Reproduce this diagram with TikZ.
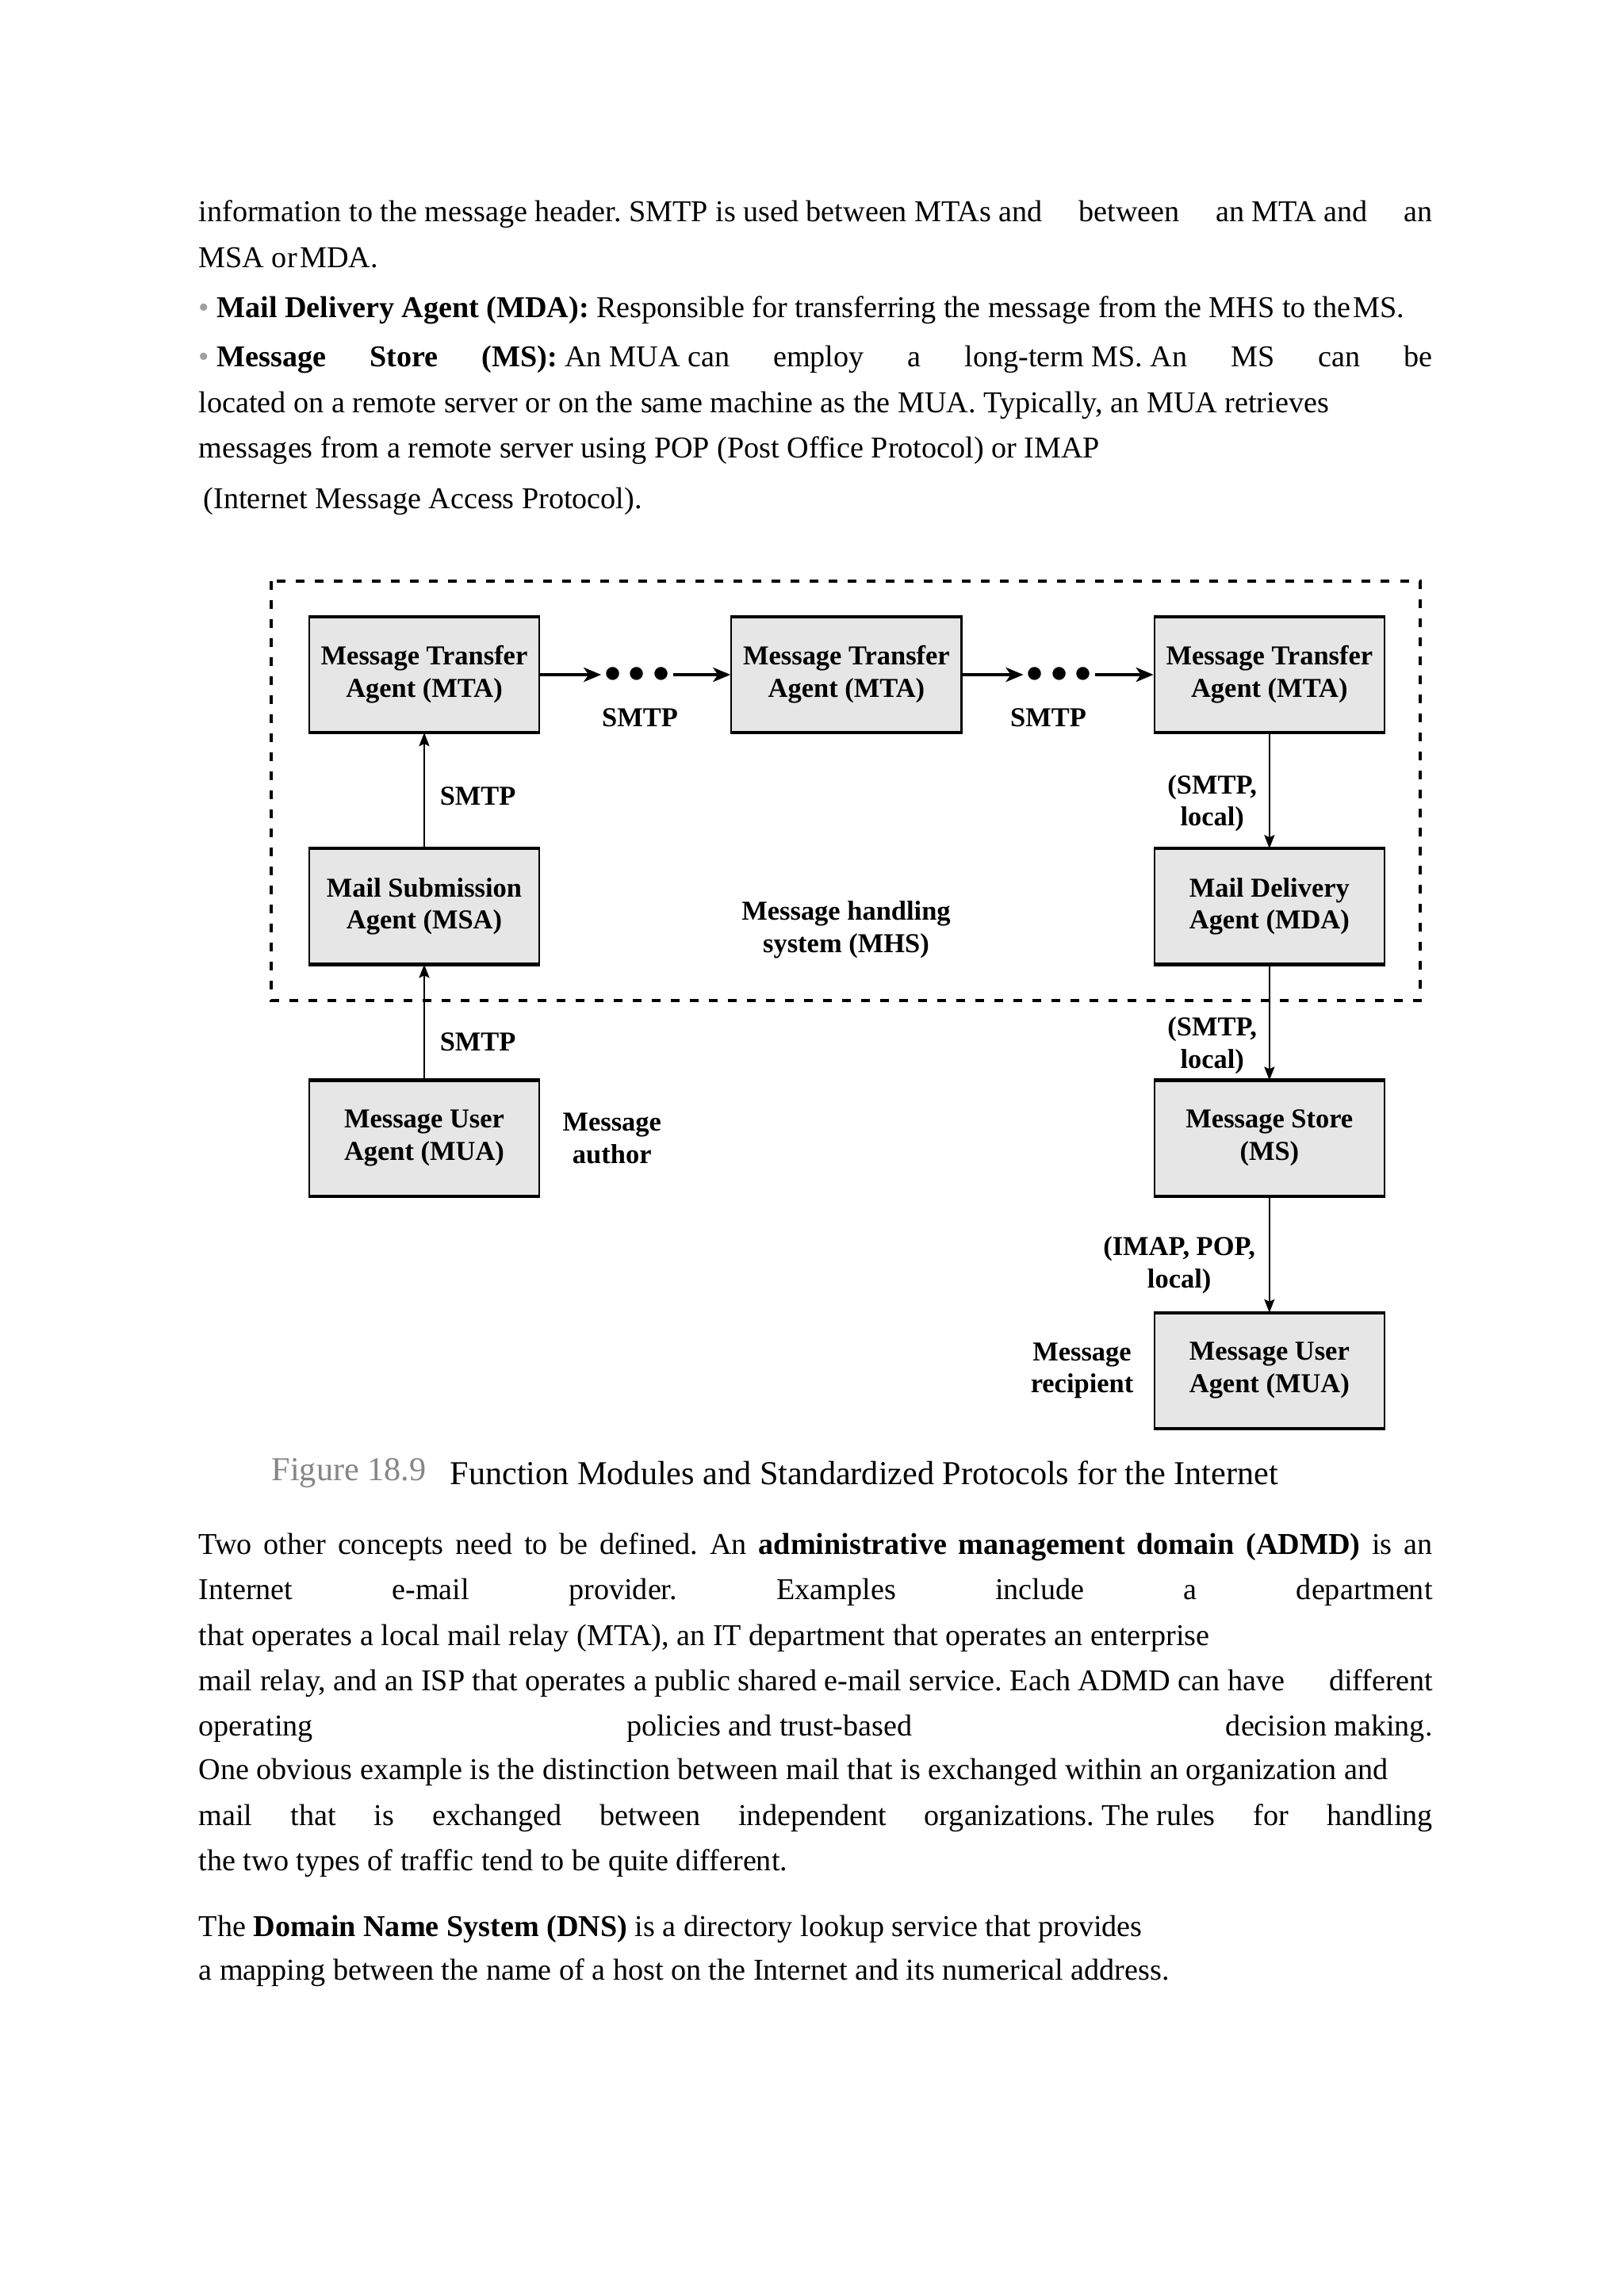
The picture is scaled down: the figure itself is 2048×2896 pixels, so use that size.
\documentclass[tikz,border=0pt]{standalone}
\usepackage{fontspec}
\setmainfont{Liberation Serif}
\usetikzlibrary{arrows.meta, positioning}

\definecolor{boxgray}{HTML}{E6E6E6}
\definecolor{capgray}{HTML}{868686}
\definecolor{bulgray}{HTML}{A0A0A0}

\newlength{\linew}
\setlength{\linew}{15.55cm}
\newcommand{\jline}[1]{\makebox[\linew][s]{#1}}
\newcommand{\bul}{\textcolor{bulgray}{•}}
\frenchspacing

\begin{document}
\begin{tikzpicture}[
x=0.01cm, y=-0.01cm,
txt/.style={anchor=west, inner sep=0pt, text height=0.7em, text depth=0.22em, font=\fontsize{10.85pt}{13pt}\selectfont},
agent/.style={rectangle, draw, line width=0.6pt, fill=boxgray, minimum width=2.9cm, minimum height=1.44cm, align=center, font=\fontsize{9.8pt}{11.6pt}\selectfont\bfseries},
lbl/.style={align=center, font=\fontsize{9.8pt}{11.6pt}\selectfont\bfseries},
dots/.style={inner sep=1pt, font=\fontsize{12.5pt}{14pt}\selectfont},
arrow/.style={-{Stealth[length=0.17cm, width=0.13cm, inset=0.03cm]}, line width=0.6pt},
bigarrow/.style={-{Stealth[length=0.22cm, width=0.18cm, inset=0.06cm]}, line width=1.2pt},
mhsframe/.style={line width=1.4pt, dash pattern=on 0.11cm off 0.13cm}
]
\useasboundingbox (0,0) rectangle (2048,2896);
\fill[white] (0,0) rectangle (2048,2896);

% text above the figure
\node[txt] (l1) at (250,271) {\jline{information to the message header. SMTP is used between MTAs and\hfill between\hfill an MTA and\hfill an}};
\node[txt] (l2) at (250,329) {MSA or\kern1pt MDA.};
\node[txt] (l3) at (250,392) {\bul\ \textbf{Mail Delivery Agent (MDA):} Responsible for transferring the message from the MHS to the\kern1pt MS.};
\node[txt] (l4) at (250,454) {\jline{\bul\ \textbf{Message\hfill Store\hfill (MS):} An MUA can\hfill employ\hfill a\hfill long-term MS. An\hfill MS\hfill can\hfill be}};
\node[txt] (l5) at (250,512) {located on a remote server or on the same machine as the MUA. Typically, an MUA retrieves};
\node[txt] (l6) at (250,569) {messages from a remote server using POP (Post Office Protocol) or IMAP};
\node[txt] (l7) at (256,633) {(Internet Message Access Protocol).};

% message handling system
\draw[mhsframe] (342,733) rectangle (1791,1262);

\node[agent] (mta1) at (535,851) {Message Transfer\\Agent (MTA)};
\node[agent, right=2.4cm of mta1] (mta2) {Message Transfer\\Agent (MTA)};
\node[agent, right=2.41cm of mta2] (mta3) {Message Transfer\\Agent (MTA)};
\node[agent, below=1.46cm of mta1] (msa) {Mail Submission\\Agent (MSA)};
\node[agent, below=1.46cm of msa] (mua1) {Message User\\Agent (MUA)};
\node[agent, below=1.46cm of mta3] (mda) {Mail Delivery\\Agent (MDA)};
\node[agent, below=1.46cm of mda] (ms) {Message Store\\(MS)};
\node[agent, below=1.47cm of ms] (mua2) {Message User\\Agent (MUA)};

\foreach \n in {mta1,mta2,mta3,msa,mua1,mda,ms,mua2}
  \draw[line width=1.2pt] (\n.north west) -- (\n.north east) (\n.south west) -- (\n.south east);

\node[dots, right=0.77cm of mta1] (dots1) {$\bullet\bullet\bullet$};
\node[dots, right=0.77cm of mta2] (dots2) {$\bullet\bullet\bullet$};
\node[lbl] (smtp1) at (807,905) {SMTP};
\node[lbl] (smtp2) at (1322,905) {SMTP};

\node[lbl] (mhs) at (1067,1173) {Message handling\\system (MHS)};
\node[lbl, right=0.16cm of mua1] (author) {Message\\author};
\node[lbl, left=0.13cm of mua2] (recipient) {Message\\recipient};

\draw[bigarrow] (mta1) -- (dots1);
\draw[bigarrow] (dots1) -- (mta2);
\draw[bigarrow] (mta2) -- (dots2);
\draw[bigarrow] (dots2) -- (mta3);

\draw[arrow] (msa) -- node[lbl, right=0.07cm, pos=0.45] {SMTP} (mta1);
\draw[arrow] (mua1) -- node[lbl, right=0.07cm, pos=0.33] {SMTP} (msa);
\draw[arrow] (mta3) -- node[lbl, left=0.03cm, pos=0.61] {(SMTP,\\local)} (mda);
\draw[arrow] (mda) -- node[lbl, left=0.03cm, pos=0.7] {(SMTP,\\local)} (ms);
\draw[arrow] (ms) -- node[lbl, left=0.05cm, pos=0.59] {(IMAP, POP,\\local)} (mua2);

% caption
\node[anchor=west, inner sep=0pt, font=\fontsize{12pt}{14pt}\selectfont, text=capgray] (figno) at (342,1858) {Figure 18.9};
\node[anchor=west, inner sep=0pt, font=\fontsize{12pt}{14pt}\selectfont] (figtitle) at (567,1858) {Function Modules and Standardized Protocols for the Internet};

% text below the figure
\node[txt] (l8) at (250,1952) {\jline{Two other concepts need to be defined. An \textbf{administrative management domain (ADMD)} is an}};
\node[txt] (l9) at (250,2009) {\jline{Internet e-mail provider. Examples include a department}};
\node[txt] (l10) at (250,2067) {that operates a local mail relay (MTA), an IT department that operates an enterprise};
\node[txt] (l11) at (250,2124) {\jline{mail relay, and an ISP that operates a public shared e-mail service. Each ADMD can have\hfill different}};
\node[txt] (l12) at (250,2181) {\jline{operating\hfill policies and trust-based\hfill decision making.}};
\node[txt] (l13) at (250,2236) {One obvious example is the distinction between mail that is exchanged within an organization and};
\node[txt] (l14) at (250,2294) {\jline{mail\hfill that\hfill is\hfill exchanged\hfill between\hfill independent\hfill organizations. The rules\hfill for\hfill handling}};
\node[txt] (l15) at (250,2351) {the two types of traffic tend to be quite different.};
\node[txt] (l16) at (250,2434) {The \textbf{Domain Name System (DNS)} is a directory lookup service that provides};
\node[txt] (l17) at (250,2489) {a mapping between the name of a host on the Internet and its numerical address.};

\end{tikzpicture}
\end{document}
